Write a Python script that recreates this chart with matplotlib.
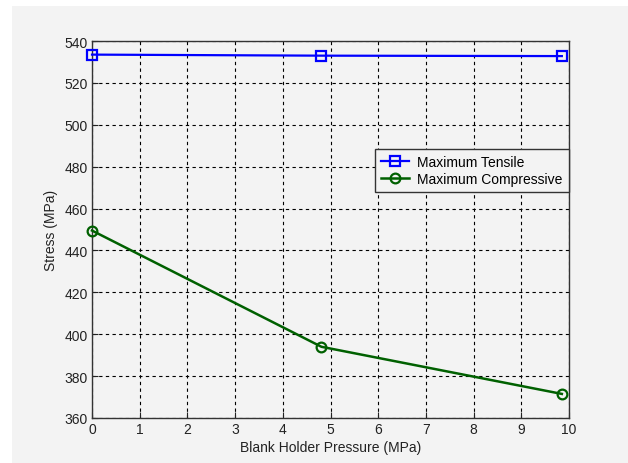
import matplotlib
matplotlib.use("Agg")
import matplotlib.pyplot as plt
from matplotlib.patches import Rectangle

# valeurs
pressure = [0.0, 4.81, 9.85]
max_tensile = [533.5, 533.0, 532.8]
max_compressive = [449.5, 394.0, 371.5]

x_ticks = list(range(0, 11))
y_ticks = list(range(360, 541, 20))

plt.rcParams['font.family'] = ['Liberation Sans', 'DejaVu Sans']
plt.rcParams['font.size'] = 10

bg = '#f3f3f3'

fig = plt.figure(figsize=(6.28, 4.64), dpi=100)
fig.patch.set_facecolor('white')
# fond gris façon fenêtre MATLAB
fig.patches.append(Rectangle((12 / 628, 0), 1, (464 - 7) / 464,
                             transform=fig.transFigure, facecolor=bg,
                             edgecolor='none', zorder=-1))

ax = fig.add_axes([92 / 628, 45 / 464, 477 / 628, 377 / 464])
ax.set_facecolor(bg)

ax.plot(pressure, max_tensile, color='#0000ff', lw=1.6, marker='s', ms=7,
        mfc='none', mew=1.6, label='Maximum Tensile', clip_on=False, zorder=3)
ax.plot(pressure, max_compressive, color='#006000', lw=1.8, marker='o', ms=7,
        mfc='none', mew=1.6, label='Maximum Compressive', clip_on=False, zorder=3)

ax.set_xlim(0, 10)
ax.set_ylim(360, 540)
ax.set_xticks(x_ticks)
ax.set_yticks(y_ticks)
ax.grid(True, color='black', linestyle=(0, (3, 3)), linewidth=0.8)
ax.tick_params(direction='in', length=4, width=0.8, colors='#222222', pad=3)
for s in ax.spines.values():
    s.set_color('#333333')
    s.set_linewidth(1.0)

ax.set_xlabel('Blank Holder Pressure (MPa)', color='#222222', labelpad=3)
ax.set_ylabel('Stress (MPa)', color='#222222', labelpad=5)

leg = ax.legend(loc='upper right', bbox_to_anchor=(0.999, 0.714),
                fancybox=False, framealpha=1, edgecolor='#333333',
                borderpad=0.45, labelspacing=0.2, handlelength=2.0,
                handletextpad=0.6, borderaxespad=0)
leg.get_frame().set_facecolor(bg)
leg.get_frame().set_linewidth(1.0)

fig.savefig('out.png', dpi=100, facecolor=fig.get_facecolor())
